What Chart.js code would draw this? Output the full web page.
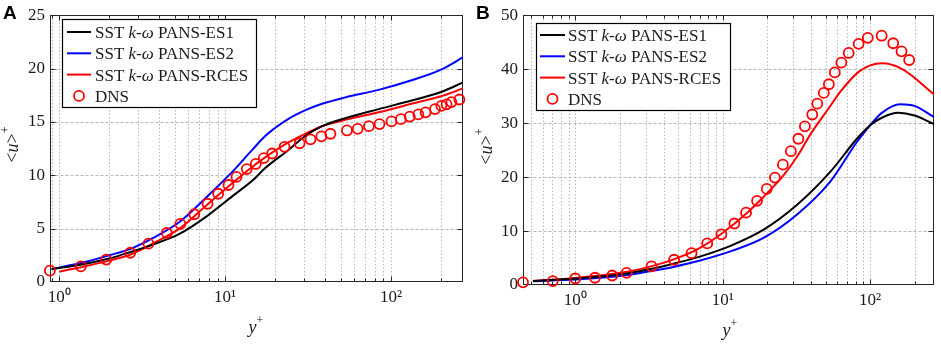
<!DOCTYPE html>
<html><head><meta charset="utf-8">
<script src="https://cdn.jsdelivr.net/npm/chart.js@4"></script>
<style>
html,body{margin:0;padding:0;background:#fff;}
#wrap{position:relative;width:941px;height:344px;overflow:hidden;background:#fff;}
canvas{position:absolute;top:0;}
</style></head><body>
<div id="wrap">
<canvas id="cA" width="470" height="344" style="left:0px"></canvas>
<canvas id="cB" width="471" height="344" style="left:470px"></canvas>
</div>
<script>
// ---------------- data ----------------
const seriesLabels = ['SST k-ω PANS-ES1', 'SST k-ω PANS-ES2', 'SST k-ω PANS-RCES', 'DNS'];
const seriesColors = ['#000000', '#0000ff', '#ff0000', '#ff0000'];
const panelLetters = ['A', 'B'];
const xTitle = 'y';
const yTitle = ['<', 'u', '>'];
const supPlus = '+';

// Panel A
const xTicksA = [0.9, 1, 2, 3, 4, 5, 6, 7, 8, 9, 10, 20, 30, 40, 50, 60, 70, 80, 90, 100, 200];
const xMajorA = [1, 10, 100];
const xMajorLabelsA = ['10⁰', '10¹', '10²'];
const yTicksA = [0, 5, 10, 15, 20, 25];

const es1Ax = [0.9, 1.39, 2.0, 2.72, 3.66, 5.3, 7.66, 11.07, 14.6, 17.5, 24.2, 30.5, 38.4, 53, 84, 133, 200, 272];
const es1Ay = [1.2, 1.67, 2.2, 2.83, 3.5, 4.5, 6.1, 8.05, 9.5, 10.7, 12.4, 13.7, 14.6, 15.35, 16.2, 17.0, 17.8, 18.7];
const es2Ax = [0.9, 1.39, 2.0, 2.72, 3.66, 5.3, 7.66, 11.07, 14.6, 17.5, 24.2, 30.5, 38.4, 53, 84, 133, 200, 272];
const es2Ay = [1.22, 1.82, 2.5, 3.13, 4.1, 5.62, 7.9, 10.34, 12.4, 13.7, 15.3, 16.1, 16.7, 17.3, 18.0, 18.9, 19.9, 21.06];
const rcesAx = [1.0, 1.39, 2.0, 2.72, 3.66, 5.3, 7.66, 11.07, 14.6, 17.5, 24.2, 30.5, 38.4, 53, 84, 133, 200, 272];
const rcesAy = [0.97, 1.43, 2.0, 2.6, 3.6, 5.0, 7.15, 9.27, 10.8, 11.7, 13.1, 13.9, 14.6, 15.2, 15.9, 16.7, 17.4, 18.14];
const dnsAx = [0.879, 1.35, 1.92, 2.68, 3.45, 4.45, 5.37, 6.52, 7.83, 9.08, 10.47, 11.7, 13.5, 15.3, 17.1, 19.2, 22.8, 28.1, 32.7, 38.0, 43.1, 54.2, 62.9, 73.5, 85.2, 100.5, 114.5, 129.6, 146, 161.5, 184, 201, 216, 231, 258];
const dnsAy = [1.06, 1.46, 2.10, 2.74, 3.59, 4.59, 5.44, 6.35, 7.33, 8.27, 9.09, 9.85, 10.58, 11.06, 11.61, 12.04, 12.67, 13.0, 13.37, 13.65, 13.89, 14.2, 14.35, 14.6, 14.8, 15.05, 15.26, 15.5, 15.7, 15.9, 16.2, 16.5, 16.65, 16.86, 17.1];

// Panel B
const xTicksB = [0.5, 0.6, 0.7, 0.8, 0.9, 1, 2, 3, 4, 5, 6, 7, 8, 9, 10, 20, 30, 40, 50, 60, 70, 80, 90, 100, 200];
const xMajorB = [1, 10, 100];
const xMajorLabelsB = ['10⁰', '10¹', '10²'];
const yTicksB = [0, 10, 20, 30, 40, 50];

const es1Bx = [0.516, 1.0, 2.2, 3.3, 4.7, 6.82, 11.4, 19.2, 32.1, 53.8, 81.3, 100, 120, 155, 200, 272];
const es1By = [0.75, 1.2, 2.1, 3.0, 4.0, 5.17, 7.3, 10.34, 14.9, 21.0, 27.1, 29.6, 31.0, 31.9, 31.4, 29.8];
const es2Bx = [0.516, 1.0, 2.2, 3.3, 4.7, 6.82, 11.4, 19.2, 32.1, 53.8, 81.3, 100, 120, 160, 200, 272];
const es2By = [0.7, 1.0, 1.8, 2.6, 3.4, 4.44, 6.27, 8.82, 13.1, 19.2, 26.5, 29.6, 31.9, 33.5, 33.2, 31.1];
const rcesBx = [0.516, 1.0, 2.2, 3.3, 4.7, 6.82, 9.8, 14.8, 20, 26, 32, 39.5, 52.5, 64, 83.5, 100, 120, 163, 272];
const rcesBy = [0.75, 1.3, 2.4, 3.5, 4.8, 6.7, 9.5, 13.5, 17.0, 20.4, 23.8, 28.0, 32.8, 36.1, 39.5, 40.7, 41.1, 40.1, 35.3];
const dnsBx = [0.442, 0.704, 1.0, 1.36, 1.78, 2.23, 3.29, 4.68, 6.15, 7.85, 9.8, 12.0, 14.4, 17.1, 19.9, 22.6, 25.6, 29.0, 32.6, 36.1, 40.5, 43.8, 48.5, 52.5, 57.6, 63.8, 71.5, 83.5, 96.4, 119.7, 143.4, 163.3, 184];
const dnsBy = [0.49, 0.73, 1.2, 1.34, 1.76, 2.25, 3.47, 4.68, 5.9, 7.7, 9.4, 11.4, 13.4, 15.6, 17.8, 19.9, 22.3, 24.8, 27.1, 29.4, 31.6, 33.6, 35.6, 37.2, 39.4, 41.2, 43.0, 44.7, 45.8, 46.2, 44.8, 43.3, 41.7];

// ---------------- drawing ----------------
const SERIF = '"Liberation Serif", "Times New Roman", serif';
const SANS = '"Liberation Sans", Arial, sans-serif';
const pts = (xs, ys) => xs.map((v, i) => ({x: v, y: ys[i]}));

function drawMixed(ctx, parts, x, y) {
  let cx = x;
  for (const [t, it, size, dy] of parts) {
    ctx.font = (it ? 'italic ' : '') + size + 'px ' + SERIF;
    ctx.fillText(t, cx, y + (dy || 0));
    cx += ctx.measureText(t).width;
  }
  return cx;
}
function measureMixed(ctx, parts) {
  let w = 0;
  for (const [t, it, size] of parts) {
    ctx.font = (it ? 'italic ' : '') + size + 'px ' + SERIF;
    w += ctx.measureText(t).width;
  }
  return w;
}
function labelParts(label, size) {
  const m = label.match(/^(.*?)(k)(-)(ω)(.*)$/);
  if (!m) return [[label, false, size]];
  return [[m[1], false, size], [m[2], true, size], [m[3], false, size], [m[4], true, size], [m[5], false, size]];
}

function makePlugin(p) {
  return {
    id: 'decor' + p.letter,
    beforeDatasetsDraw(chart) {
      const {ctx, chartArea: a, scales: {x, y}} = chart;
      ctx.save();
      const L = Math.round(a.left) + 0.5, R = Math.round(a.right) - 0.5;
      const T = Math.round(a.top) + 0.5, B = Math.round(a.bottom) - 0.5;
      // grid
      ctx.strokeStyle = '#b8b8b8';
      ctx.lineWidth = 1;
      ctx.setLineDash([1.5, 2]);
      ctx.beginPath();
      x.ticks.forEach(t => {
        const px = Math.round(x.getPixelForValue(t.value)) + 0.5;
        if (px <= L + 1 || px >= R - 1) return;
        ctx.moveTo(px, T); ctx.lineTo(px, B);
      });
      ctx.stroke();
      ctx.setLineDash([3, 2]);
      ctx.beginPath();
      y.ticks.forEach(t => {
        const py = Math.round(y.getPixelForValue(t.value)) + 0.5;
        if (py <= T + 1 || py >= B - 1) return;
        ctx.moveTo(L, py); ctx.lineTo(R, py);
      });
      ctx.stroke();
      // frame and inward ticks
      ctx.setLineDash([]);
      ctx.strokeStyle = '#262626';
      ctx.lineWidth = 1;
      ctx.strokeRect(L, T, R - L, B - T);
      ctx.beginPath();
      x.ticks.forEach(t => {
        const px = Math.round(x.getPixelForValue(t.value)) + 0.5;
        if (px <= L + 1 || px >= R - 1) return;
        const len = p.xMajor.includes(t.value) ? 5 : 3;
        ctx.moveTo(px, B); ctx.lineTo(px, B - len);
        ctx.moveTo(px, T); ctx.lineTo(px, T + len);
      });
      y.ticks.forEach(t => {
        const py = Math.round(y.getPixelForValue(t.value)) + 0.5;
        if (py <= T + 1 || py >= B - 1) return;
        ctx.moveTo(L, py); ctx.lineTo(L + 5, py);
        ctx.moveTo(R, py); ctx.lineTo(R - 5, py);
      });
      ctx.stroke();
      ctx.restore();
    },
    afterDraw(chart) {
      const {ctx} = chart;
      ctx.save();
      ctx.textBaseline = 'alphabetic';
      ctx.textAlign = 'left';
      ctx.font = 'bold 19px ' + SANS;
      ctx.fillStyle = '#000';
      ctx.fillText(p.letter, p.letterX, 19);
      ctx.fillStyle = '#1a1a1a';
      const xParts = [[xTitle, true, 18, 0], [supPlus, false, 12, -9]];
      const xw = measureMixed(ctx, xParts);
      drawMixed(ctx, xParts, p.xTitleX - xw / 2, p.xTitleY);
      ctx.save();
      ctx.translate(p.yTitleX, p.yTitleY);
      ctx.rotate(-Math.PI / 2);
      const yParts = [[yTitle[0], false, 18, 0], [yTitle[1], true, 18, 0], [yTitle[2], false, 18, 0], [supPlus, false, 12, -9]];
      const yw = measureMixed(ctx, yParts.slice(0, 3));
      drawMixed(ctx, yParts, -yw / 2, 5);
      ctx.restore();
      const lg = p.legend;
      ctx.fillStyle = '#fff';
      ctx.fillRect(lg.x, lg.y, lg.w, lg.h);
      ctx.strokeStyle = '#000';
      ctx.lineWidth = 1.2;
      ctx.strokeRect(lg.x + 0.5, lg.y + 0.5, lg.w, lg.h);
      seriesLabels.forEach((lab, i) => {
        const ry = lg.row0 + i * lg.dy;
        ctx.strokeStyle = seriesColors[i];
        if (i < 3) {
          ctx.lineWidth = 2;
          ctx.beginPath(); ctx.moveTo(lg.s0, ry); ctx.lineTo(lg.s1, ry); ctx.stroke();
        } else {
          ctx.lineWidth = 1.8;
          ctx.beginPath(); ctx.arc((lg.s0 + lg.s1) / 2, ry, 5, 0, Math.PI * 2); ctx.stroke();
        }
        ctx.fillStyle = '#1a1a1a';
        drawMixed(ctx, labelParts(lab, 17), lg.tx, ry + 6);
      });
      ctx.restore();
    }
  };
}

function build(id, p) {
  const lineDs = (lab, data, color) => ({
    label: lab, data, showLine: true, borderColor: color, backgroundColor: color,
    borderWidth: 2, pointRadius: 0, cubicInterpolationMode: 'monotone', order: 2
  });
  return new Chart(document.getElementById(id), {
    type: 'scatter',
    data: {
      datasets: [
        lineDs(seriesLabels[0], p.lines[0], seriesColors[0]),
        lineDs(seriesLabels[1], p.lines[1], seriesColors[1]),
        lineDs(seriesLabels[2], p.lines[2], seriesColors[2]),
        {label: seriesLabels[3], data: p.dns, showLine: false, pointStyle: 'circle', pointRadius: 5,
         pointBorderWidth: 1.8, borderColor: seriesColors[3], backgroundColor: 'rgba(0,0,0,0)',
         pointBackgroundColor: 'rgba(0,0,0,0)', clip: false, order: 1}
      ]
    },
    options: {
      responsive: false, animation: false, devicePixelRatio: 1,
      layout: {padding: {top: p.padTop, right: p.padRight, left: 0, bottom: 0}},
      plugins: {legend: {display: false}, tooltip: {enabled: false}},
      scales: {
        x: {
          type: 'logarithmic', min: p.xMin, max: p.xMax,
          afterBuildTicks: s => { s.ticks = p.xTicks.map(v => ({value: v})); },
          afterFit: s => { s.height = p.xAxisH; },
          ticks: {autoSkip: false, maxRotation: 0, minRotation: 0, padding: 5, color: '#1a1a1a',
                  font: {family: SERIF, size: 17},
                  callback: v => { const i = p.xMajor.indexOf(v); return i >= 0 ? p.xMajorLabels[i] : ''; }},
          grid: {display: true, drawOnChartArea: false, drawTicks: false},
          border: {display: false}
        },
        y: {
          type: 'linear', min: 0, max: p.yMax,
          afterBuildTicks: s => { s.ticks = p.yTicks.map(v => ({value: v})); },
          afterFit: s => { s.width = p.yAxisW; },
          ticks: {padding: 5, color: '#1a1a1a', font: {family: SERIF, size: 17}},
          grid: {display: true, drawOnChartArea: false, drawTicks: false},
          border: {display: false}
        }
      }
    },
    plugins: [makePlugin(p)]
  });
}

build('cA', {
  letter: panelLetters[0], letterX: 3,
  xMin: 0.88, xMax: 272, xTicks: xTicksA, xMajor: xMajorA, xMajorLabels: xMajorLabelsA,
  yMax: 25, yTicks: yTicksA,
  padTop: 7, padRight: 5, xAxisH: 62, yAxisW: 50,
  lines: [pts(es1Ax, es1Ay), pts(es2Ax, es2Ay), pts(rcesAx, rcesAy)],
  dns: pts(dnsAx, dnsAy),
  xTitleX: 256, xTitleY: 333, yTitleX: 13, yTitleY: 148,
  legend: {x: 62, y: 19, w: 194, h: 88, row0: 32, dy: 21.3, s0: 67, s1: 91, tx: 95}
});
build('cB', {
  letter: panelLetters[1], letterX: 6,
  xMin: 0.442, xMax: 272, xTicks: xTicksB, xMajor: xMajorB, xMajorLabels: xMajorLabelsB,
  yMax: 50, yTicks: yTicksB,
  padTop: 11, padRight: 3, xAxisH: 59, yAxisW: 53,
  lines: [pts(es1Bx, es1By), pts(es2Bx, es2By), pts(rcesBx, rcesBy)],
  dns: pts(dnsBx, dnsBy),
  xTitleX: 260, xTitleY: 336, yTitleX: 17, yTitleY: 150,
  legend: {x: 66, y: 23, w: 194, h: 87, row0: 35, dy: 21.3, s0: 70, s1: 95, tx: 98}
});
</script>
</body></html>
